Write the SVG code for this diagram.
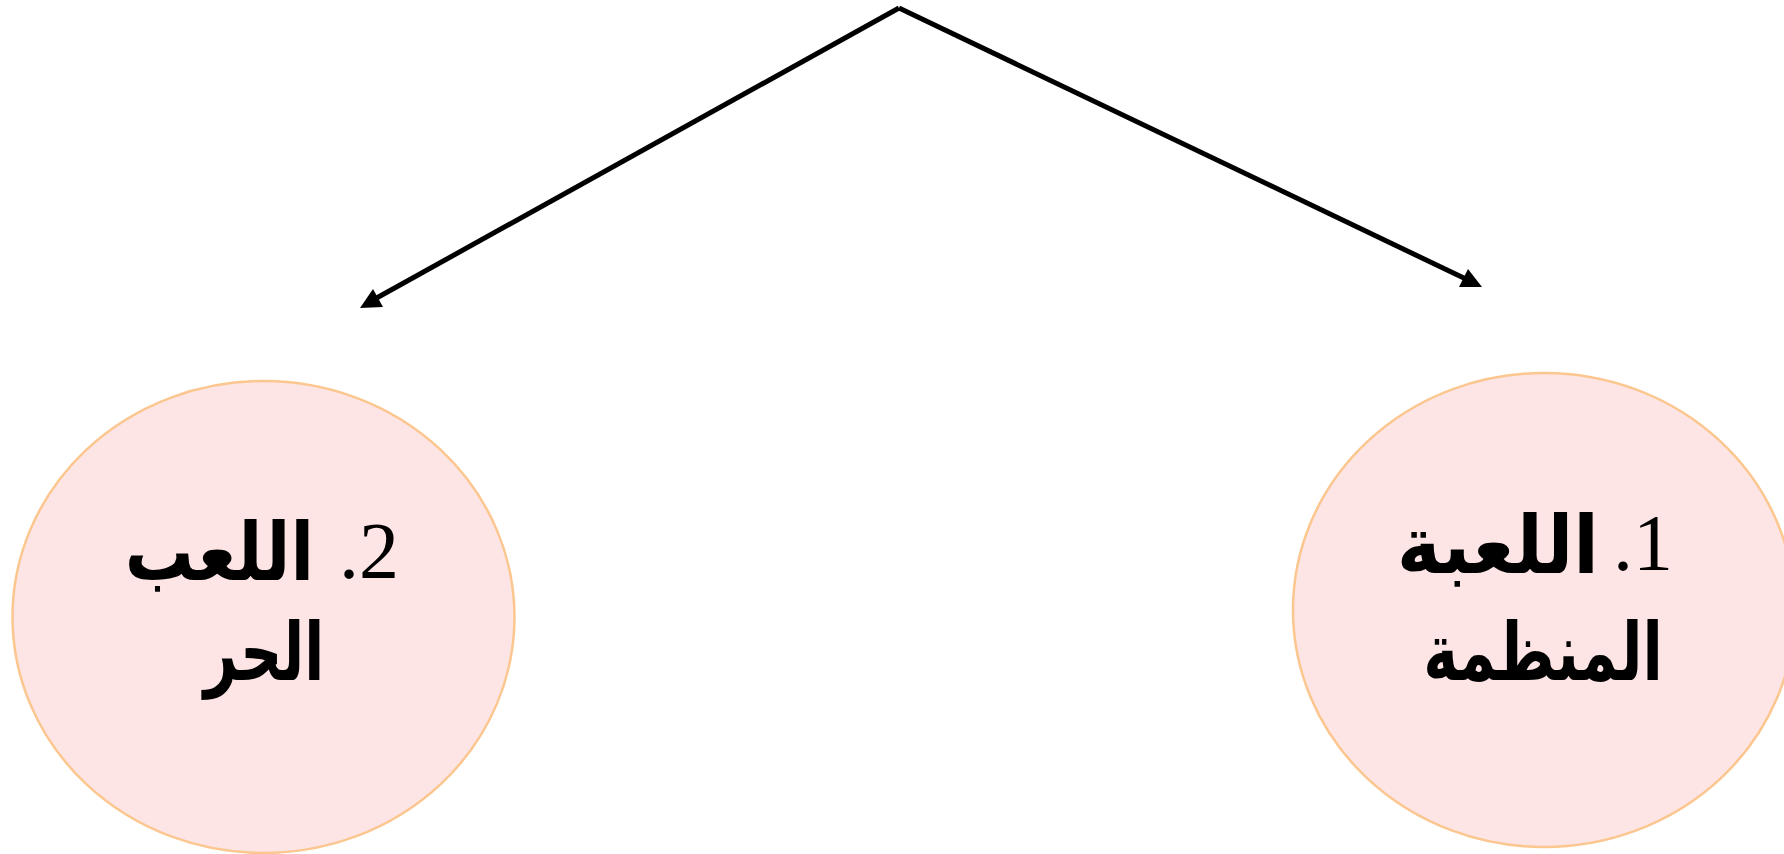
<svg xmlns="http://www.w3.org/2000/svg" width="1784" height="854" viewBox="0 0 1784 854">
<style>
.node { fill: #fde4e5; stroke: #fcc68f; stroke-width: 2.5; }
.conn { stroke: #000; stroke-width: 5; fill: none; }
.head { fill: #000; stroke: none; }
.ar { font-family: "DejaVu Sans", sans-serif; font-size: 80px; font-weight: bold; fill: #000; }
.num { font-family: "Liberation Serif", serif; font-size: 80px; font-weight: normal; fill: #000; }
</style>
<rect width="1784" height="854" fill="#fff"/>
<g id="connectors">
<line class="conn" x1="899" y1="8" x2="373" y2="300"/>
<polygon class="head" points="360,308 383,307 373,289"/>
<line class="conn" x1="899" y1="8" x2="1468" y2="280"/>
<polygon class="head" points="1482,287 1459,287 1468,269"/>
</g>
<g id="node-free-play">
<ellipse class="node" cx="263.5" cy="617" rx="251" ry="236"/>
<text class="num" x="399" y="578" direction="rtl" text-anchor="start">2.</text>
<text class="ar" transform="translate(314 580) scale(0.86 1)" text-anchor="end">اللعب</text>
<text class="ar" transform="translate(264 680) scale(0.73 1)" text-anchor="middle">الحر</text>
</g>
<g id="node-organized-play">
<ellipse class="node" cx="1544" cy="610" rx="251" ry="237"/>
<text class="num" x="1673" y="570" direction="rtl" text-anchor="start">1.</text>
<text class="ar" transform="translate(1599 573) scale(0.935 1)" text-anchor="end">اللعبة</text>
<text class="ar" transform="translate(1543 680) scale(0.74 1)" text-anchor="middle">المنظمة</text>
</g>
</svg>
